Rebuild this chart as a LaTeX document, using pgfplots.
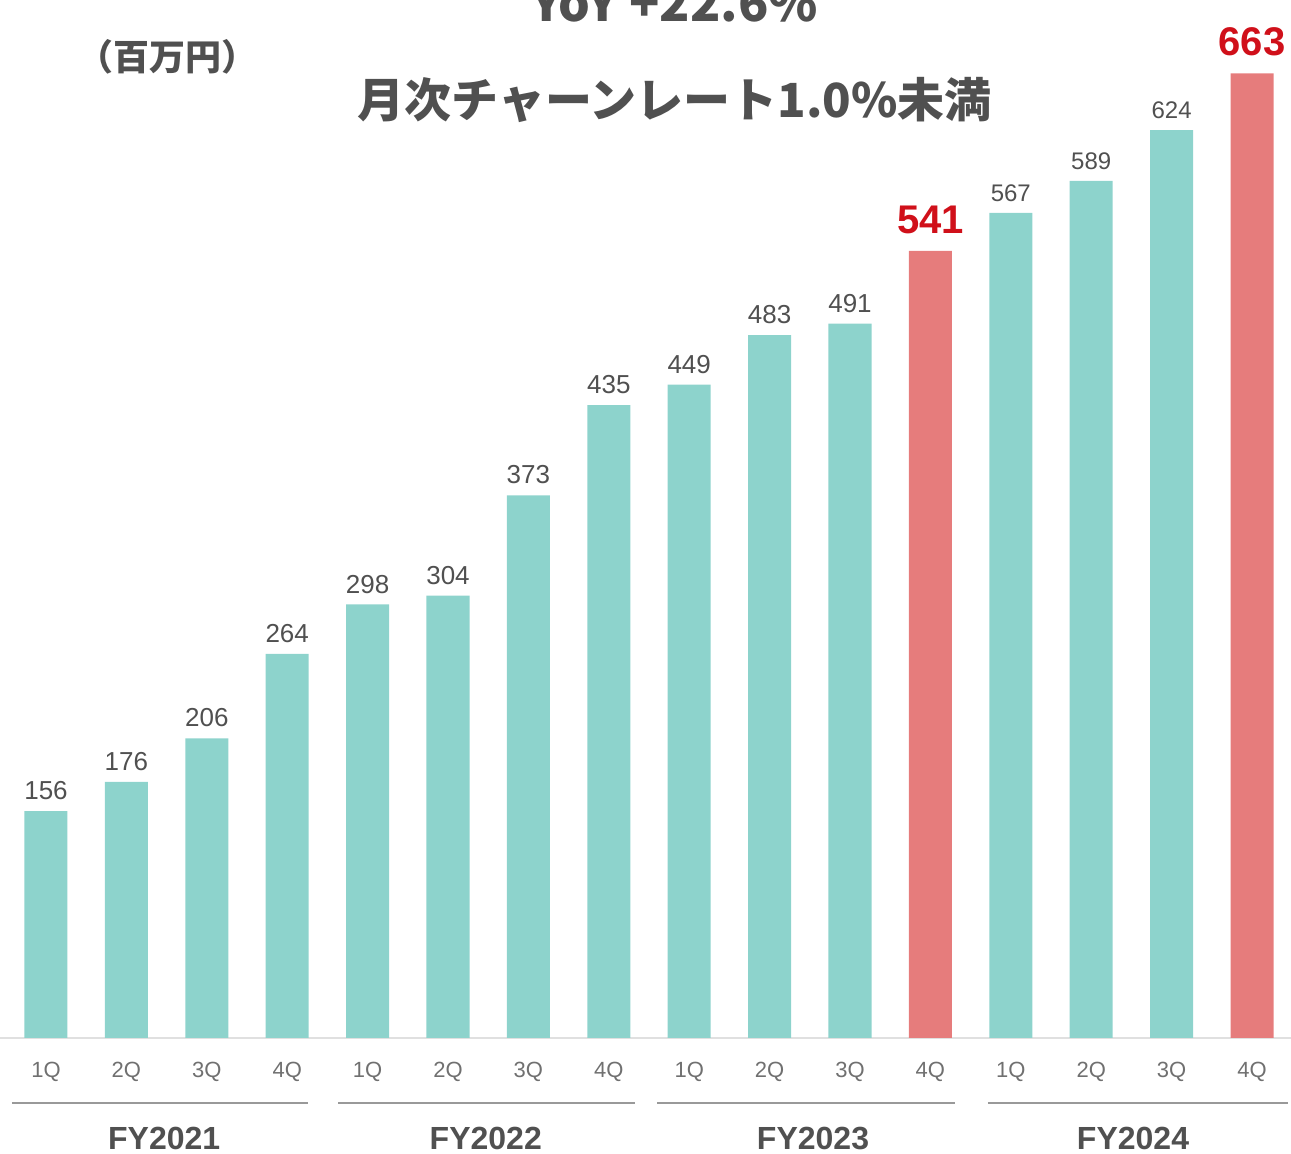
\documentclass[border=0pt]{standalone}
\usepackage{fontspec}
\usepackage{pgfplots}
\pgfplotsset{compat=1.18}
\setmainfont{Liberation Sans}
\newfontfamily\jp{Noto Sans CJK JP}
\definecolor{teal1}{HTML}{8DD3CC}
\definecolor{red1}{HTML}{E67C7C}
\definecolor{redtxt}{HTML}{D0101A}
\definecolor{txt}{HTML}{505050}
\definecolor{tick}{HTML}{707070}
\begin{document}
\begin{tikzpicture}
\useasboundingbox (0,0) rectangle (645.5pt,577pt);
\clip (0,0) rectangle (645.5pt,577pt);
\begin{axis}[
  at={(0pt,58pt)}, anchor=south west,
  scale only axis, width=645.5pt, height=519pt,
  xmin=-0.572, xmax=15.485, ymin=0, ymax=713.4,
  axis y line=none, axis x line*=bottom,
  x axis line style={black!12, line width=0.8pt},
  xtick={0,...,15},
  xticklabels={1Q,2Q,3Q,4Q,1Q,2Q,3Q,4Q,1Q,2Q,3Q,4Q,1Q,2Q,3Q,4Q},
  major tick length=0pt,
  /pgf/number format/assume math mode=true,
  xticklabel style={font=\fontsize{11}{11}\selectfont, text=tick, anchor=center, yshift=-17pt},
  clip=false,
  bar width=0.535, bar shift=0pt,
]
\addplot[ybar, fill=teal1, draw=none,
  nodes near coords, nodes near coords style={font=\fontsize{13}{13}\selectfont, text=txt, anchor=south, yshift=2pt}]
  coordinates {(0,156) (1,176) (2,206) (3,264) (4,298) (5,304) (6,373) (7,435) (8,449) (9,483) (10,491)};
\addplot[ybar, fill=teal1, draw=none,
  nodes near coords, nodes near coords style={font=\fontsize{12}{12}\selectfont, text=txt, anchor=south, yshift=2pt}]
  coordinates {(12,567) (13,589) (14,624)};
\addplot[ybar, fill=red1, draw=none,
  nodes near coords, nodes near coords style={font=\bfseries\fontsize{20}{20}\selectfont, text=redtxt, anchor=south, yshift=5pt}]
  coordinates {(11,541) (15,663)};
% group lines
\draw[black!40, line width=1pt] (axis cs:-0.423,-44.7) -- (axis cs:3.259,-44.7);
\draw[black!40, line width=1pt] (axis cs:3.632,-44.7) -- (axis cs:7.326,-44.7);
\draw[black!40, line width=1pt] (axis cs:7.600,-44.7) -- (axis cs:11.306,-44.7);
\draw[black!40, line width=1pt] (axis cs:11.716,-44.7) -- (axis cs:15.448,-44.7);
\node[inner sep=0pt, font=\bfseries\fontsize{16}{16}\selectfont, text=txt] at (axis cs:1.47,-68.8) {FY2021};
\node[inner sep=0pt, font=\bfseries\fontsize{16}{16}\selectfont, text=txt] at (axis cs:5.47,-68.8) {FY2022};
\node[inner sep=0pt, font=\bfseries\fontsize{16}{16}\selectfont, text=txt] at (axis cs:9.54,-68.8) {FY2023};
\node[inner sep=0pt, font=\bfseries\fontsize{16}{16}\selectfont, text=txt] at (axis cs:13.52,-68.8) {FY2024};
% titles
\node[font=\jp\bfseries\fontsize{25}{25}\selectfont, text=txt, anchor=base] at (axis cs:7.82,698.3) {YoY +22.6\%};
\node[font=\jp\bfseries\fontsize{23.5}{23.5}\selectfont, text=txt] at (axis cs:7.82,644.7) {月次チャーンレート1.0\%未満};
\node[font=\jp\bfseries\fontsize{18}{18}\selectfont, text=txt] at (axis cs:1.517,674.2) {（百万円）};
\end{axis}
\end{tikzpicture}
\end{document}
